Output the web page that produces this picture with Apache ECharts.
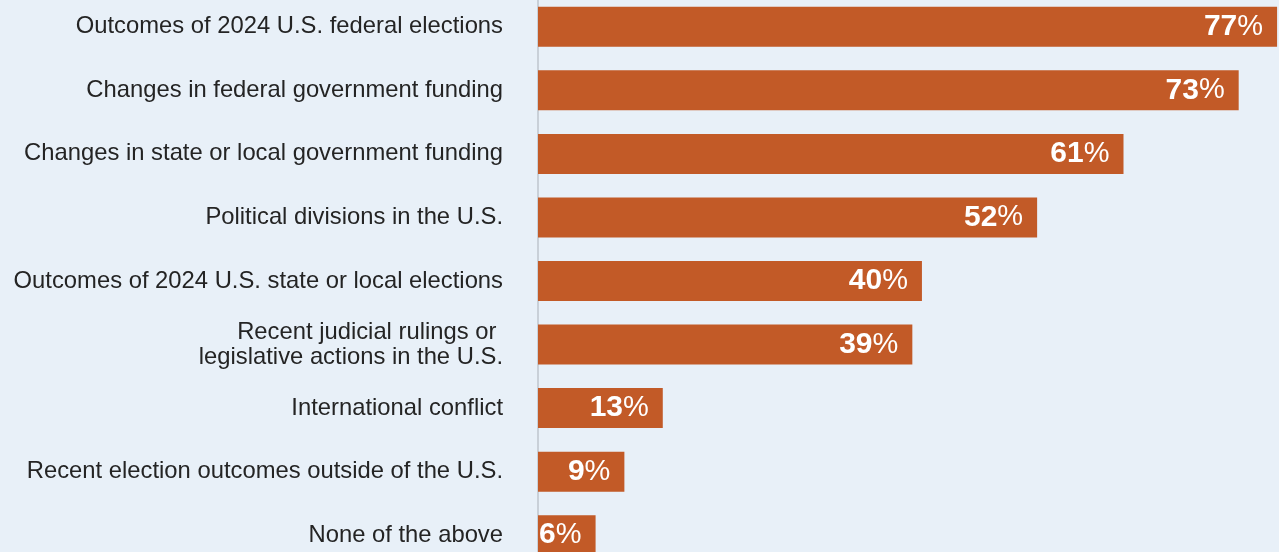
<!DOCTYPE html>
<html>
<head>
<meta charset="utf-8">
<script src="https://cdn.jsdelivr.net/npm/echarts@6/dist/echarts.min.js"></script>
<style>
  html, body { margin: 0; padding: 0; background: #e8f0f8; overflow: hidden; }
  /* chart runs a little past the top and bottom edges of the page */
  #chart { position: absolute; left: 0; top: -5px; width: 1279px; height: 572px; }
</style>
</head>
<body>
<div id="chart"></div>
<script>
// Issues cited, share of respondents (%)
const categories = [
  'Outcomes of 2024 U.S. federal elections',
  'Changes in federal government funding',
  'Changes in state or local government funding',
  'Political divisions in the U.S.',
  'Outcomes of 2024 U.S. state or local elections',
  'Recent judicial rulings or \nlegislative actions in the U.S.',
  'International conflict',
  'Recent election outcomes outside of the U.S.',
  'None of the above'
];
const values = [77, 73, 61, 52, 40, 39, 13, 9, 6];

const chart = echarts.init(document.getElementById('chart'), null, { renderer: 'canvas' });

chart.setOption({
  backgroundColor: '#e8f0f8',
  animation: false,
  grid: { left: 538, right: 0, top: 0, bottom: 0, containLabel: false },
  xAxis: {
    type: 'value',
    min: 0,
    max: 77.2,
    show: false
  },
  yAxis: {
    type: 'category',
    inverse: true,
    data: categories,
    axisTick: { show: false },
    axisLine: { show: true, lineStyle: { color: '#c9d0d8', width: 2 } },
    axisLabel: {
      margin: 35,
      fontFamily: 'Liberation Sans',
      fontSize: 23.8,
      color: '#242424',
      lineHeight: 25,
      align: 'right'
    }
  },
  series: [{
    type: 'bar',
    data: values,
    barWidth: 40,
    itemStyle: { color: '#c25a27' },
    z: 1,
    label: {
      show: true,
      position: 'insideRight',
      distance: 14,
      formatter: p => '{n|' + p.value + '}{p|%}',
      rich: {
        n: { fontFamily: 'Liberation Sans', fontWeight: 'bold', fontSize: 30, color: '#ffffff' },
        p: { fontFamily: 'Liberation Sans', fontWeight: 'normal', fontSize: 29, color: '#ffffff' }
      }
    }
  }]
});
</script>
</body>
</html>
